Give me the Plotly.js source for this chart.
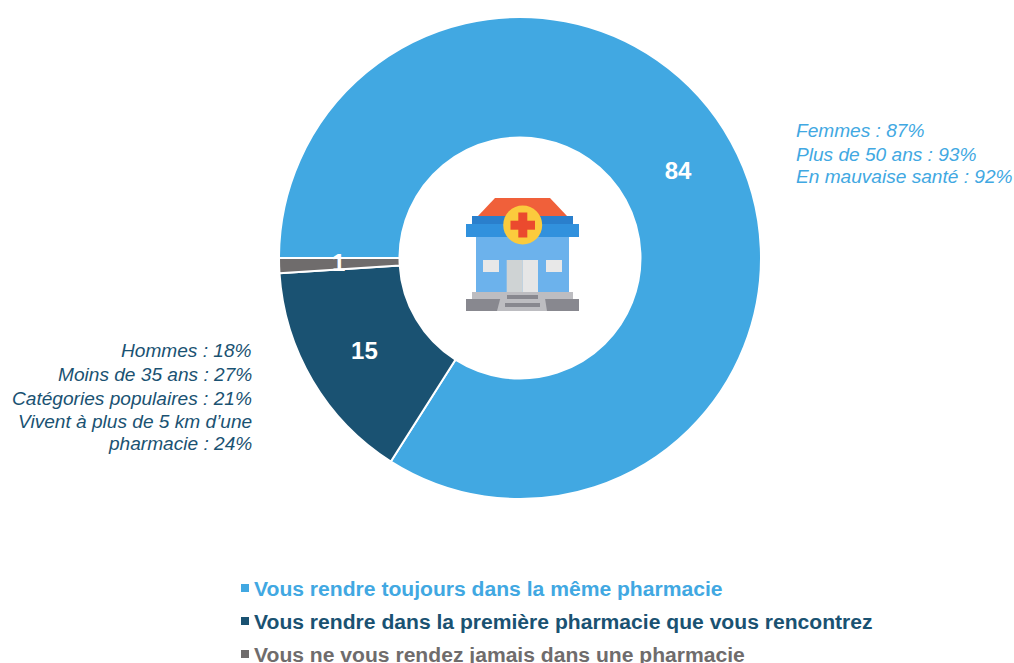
<!DOCTYPE html>
<html><head><meta charset="utf-8">
<script src="https://cdn.plot.ly/plotly-3.0.1.min.js"></script>
<style>html,body{margin:0;padding:0;background:#fff;overflow:hidden}</style></head>
<body><div id="chart" style="width:1014px;height:663px"></div>
<script>
const categories = ["Vous rendre toujours dans la même pharmacie","Vous rendre dans la première pharmacie que vous rencontrez","Vous ne vous rendez jamais dans une pharmacie"];
const values = [84,15,1];
const colors = ["#41A8E2","#1A5272","#6F6C6C"];
const noteRight = ["Femmes : 87%","Plus de 50 ans : 93%","En mauvaise santé : 92%"];
const noteLeft = ["Hommes : 18%","Moins de 35 ans : 27%","Catégories populaires : 21%","Vivent à plus de 5 km d’une","pharmacie : 24%"];
const W=1014,H=663,F='"Liberation Sans", Arial, sans-serif';
const px=x=>x/W, py=y=>1-y/H;

const icon = `<svg xmlns="http://www.w3.org/2000/svg" width="115" height="114" viewBox="0 0 115 114">
<rect x="11" y="39" width="93" height="55" fill="#6CB2EC"/>
<polygon points="30,0 85,0 102,18 13,18" fill="#F0603A"/>
<rect x="7" y="18" width="101" height="9" fill="#2A7FCC"/>
<rect x="1" y="26" width="113" height="13" fill="#3191DD"/>
<circle cx="57.7" cy="27" r="19.5" fill="#FBCB3D"/>
<rect x="53.3" y="14.5" width="9" height="25" fill="#EB4A2E"/><rect x="45.5" y="22.7" width="24.5" height="9" fill="#EB4A2E"/>
<rect x="18" y="62" width="16" height="12" fill="#E8E8E8"/><rect x="81" y="62" width="16" height="12" fill="#E8E8E8"/>
<rect x="41.7" y="62" width="16" height="32" fill="#CFD3D4"/><rect x="57.7" y="62" width="15.3" height="32" fill="#E6E6E6"/>
<rect x="7" y="94" width="101" height="7" fill="#BDBDC1"/><rect x="1" y="101" width="113" height="12" fill="#88888F"/>
<polygon points="37,94 79,94 82,113 32,113" fill="#BDBDC1"/>
<rect x="42" y="97" width="31" height="4" fill="#88888F"/><rect x="40" y="105" width="35" height="4" fill="#88888F"/>
</svg>`;

const lineAnn=(t,x,y,anchor,color)=>({xref:'paper',yref:'paper',x:px(x),y:py(y),xanchor:anchor,yanchor:'middle',align:anchor,showarrow:false,
 text:t,borderpad:0,font:{family:F,size:19.1,color:color,style:'italic'}});
const rightY=[131,154,177], leftY=[350,374,398,421,444], legendY=[588,621,654];
const annotations=[];
noteRight.forEach((t,i)=>annotations.push(lineAnn(t,794.5,rightY[i],'left',colors[0])));
noteLeft.forEach((t,i)=>annotations.push(lineAnn(t,253,leftY[i],'right',colors[1])));
const shapes=[];
categories.forEach((c,i)=>{
 annotations.push({xref:'paper',yref:'paper',x:px(253),y:py(legendY[i]),xanchor:'left',yanchor:'middle',showarrow:false,
  text:'<b>'+c+'</b>',borderpad:0,font:{family:F,size:21.1,color:colors[i]}});
 shapes.push({type:'rect',xref:'paper',yref:'paper',x0:px(241),x1:px(249),y0:py(legendY[i]+4),y1:py(legendY[i]-4),fillcolor:colors[i],line:{width:0}});
});
// value label of the thin slice: placed at the mid-ring radius of its own angle
const total=values.reduce((a,b)=>a+b,0), midDeg=270-values[2]/total*180, r=181.5, a=midDeg*Math.PI/180;
annotations.push({xref:'paper',yref:'paper',x:px(520+r*Math.sin(a)),y:py(257-r*Math.cos(a)),xanchor:'center',yanchor:'middle',showarrow:false,
 text:'<b>'+values[2]+'</b>',borderpad:0,font:{family:F,size:24,color:'#fff'}});

Plotly.newPlot('chart',[{type:'pie',labels:categories,values:values,hole:0.5,sort:false,direction:'clockwise',rotation:270,
 marker:{colors:colors,line:{color:'#fff',width:2}},texttemplate:['%{value}','%{value}',''],textposition:'inside',insidetextorientation:'horizontal',
 textfont:{family:F,size:24,color:'#fff',weight:'bold'},domain:{x:[px(279),px(761)],y:[py(499),py(17)]},hoverinfo:'label+value'}],
 {width:W,height:H,margin:{l:0,r:0,t:0,b:0},paper_bgcolor:'#fff',showlegend:false,
  annotations:annotations,shapes:shapes,
  images:[{source:'data:image/svg+xml;charset=utf-8,'+encodeURIComponent(icon),xref:'paper',yref:'paper',x:px(465),y:py(198),sizex:115/W,sizey:114/H,xanchor:'left',yanchor:'top',sizing:'stretch',layer:'above'}]},
 {displayModeBar:false});
</script></body></html>
